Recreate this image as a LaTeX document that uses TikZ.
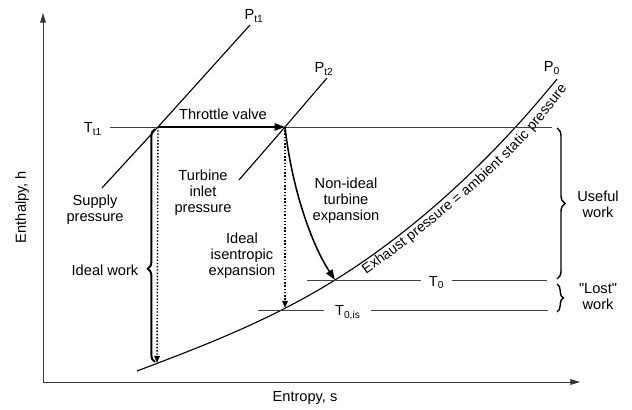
\documentclass[tikz,border=0pt]{standalone}
\usepackage{fontspec}
\setmainfont{Liberation Sans}[Ligatures=TeXOff]
\usetikzlibrary{arrows.meta,decorations.pathreplacing,decorations.text}

\begin{document}
\begin{tikzpicture}[x=0.25mm,y=-0.25mm]
\tikzset{
  txt/.style={font=\fontsize{10.4}{11.4}\selectfont,align=center,inner sep=1pt},
  axisline/.style={line width=0.7pt,draw=black!80,-{Triangle[length=2.4mm,width=1.4mm]}},
  isoline/.style={line width=0.5pt,draw=black!75},
  pline/.style={line width=0.8pt},
  process/.style={line width=1.4pt,-{Triangle[length=2.6mm,width=1.8mm]}},
  isentropic/.style={line width=1pt,dash pattern=on 1pt off 1.3pt,-{Triangle[length=1.8mm,width=1.4mm]}},
  workbrace/.style={decorate,decoration={brace,amplitude=1.8mm}}
}
\useasboundingbox (0,0) rectangle (632,410);
% axes
\coordinate (o) at (43,382);
\coordinate (hmax) at (43,13);
\coordinate (smax) at (580,382);
\draw[axisline] (o) -- (hmax);
\draw[axisline] (o) -- (smax);
\node[txt,rotate=90] (n_h) at (22,207) {Enthalpy, h};
\node[txt] (n_s) at (305,398) {Entropy, s};
% states
\coordinate (s1) at (158,127);
\coordinate (s2) at (285,127);
\coordinate (s3) at (335,280);
\coordinate (s1is) at (157,363);
\coordinate (s2is) at (285,308);
% pressure lines
\coordinate (pt1lo) at (102,188);
\coordinate (pt1hi) at (250,25);
\coordinate (pt2lo) at (239,180);
\coordinate (pt2hi) at (327,78);
\coordinate (p0lo) at (137,371);
\coordinate (p0hi) at (557,79);
\draw[pline] (pt1lo) -- (s1) -- (pt1hi);
\draw[pline] (pt2lo) -- (s2) -- (pt2hi);
\draw[pline] (p0lo) .. controls (203,346) and (269,321) .. (s3)
  .. controls (410,233.5) and (487,165) .. (p0hi);
\node[txt] (n_Pt1) at (254,16) {P\textsubscript{t1}};
\node[txt] (n_Pt2) at (324,69) {P\textsubscript{t2}};
\node[txt] (n_P0) at (552,68) {P\textsubscript{0}};
\path[decorate,decoration={text along path,raise=-10pt,
  text={|\fontsize{10}{12}\selectfont|Exhaust pressure = ambient static pressure}}]
  plot[smooth] coordinates {(358,263) (400,232) (467,177) (518,127) (557,79) (575,55)};
% temperature lines
\coordinate (tt1a) at (110,127);
\coordinate (tt1b) at (552,127);
\coordinate (t0a) at (307,280);
\coordinate (t0b) at (547,280);
\coordinate (t0isa) at (258,310);
\coordinate (t0isb) at (548,310);
\node[txt] (n_Tt1) at (93,129) {T\textsubscript{t1}};
\draw[isoline] (tt1a) -- (tt1b);
\draw[isoline] (t0a) -- node[txt,fill=white,inner xsep=2mm,yshift=-0.7mm,pos=0.54] (n_T0) {T\textsubscript{0}} (t0b);
\draw[isoline] (t0isa) -- node[txt,fill=white,inner xsep=2.7mm,yshift=-0.7mm,pos=0.31] (n_T0is) {T\textsubscript{0,is}} (t0isb);
% processes
\draw[process] (s1) -- (s2);
\node[txt] (n_throttle) at (223,114) {Throttle valve};
\draw[isentropic] (s1) -- (s1is);
\draw[isentropic] (s2) -- (s2is);
\draw[process,line width=1.1pt] (s2) .. controls (292,190) and (312,245) .. (s3);
% work braces
\draw[workbrace,line width=1.4pt,decoration={aspect=0.4}] (155,362) -- (155,129);
\draw[workbrace,line width=1pt,decoration={amplitude=2mm}] (557,128) -- (557,279);
\draw[workbrace,line width=1pt,decoration={amplitude=1.6mm}] (557,284) -- (557,312);
% labels
\node[txt] (n_supply) at (95,210) {Supply\\pressure};
\node[txt] (n_inlet) at (203,193) {Turbine\\inlet\\pressure};
\node[txt] (n_idealwork) at (105,270) {Ideal work};
\node[txt] (n_isen) at (242,256) {Ideal\\isentropic\\expansion};
\node[txt] (n_nonideal) at (346,201) {Non-ideal\\turbine\\expansion};
\node[txt] (n_useful) at (598,204) {Useful\\work};
\node[txt] (n_lost) at (598,297) {"Lost"\\work};
\end{tikzpicture}
\end{document}
